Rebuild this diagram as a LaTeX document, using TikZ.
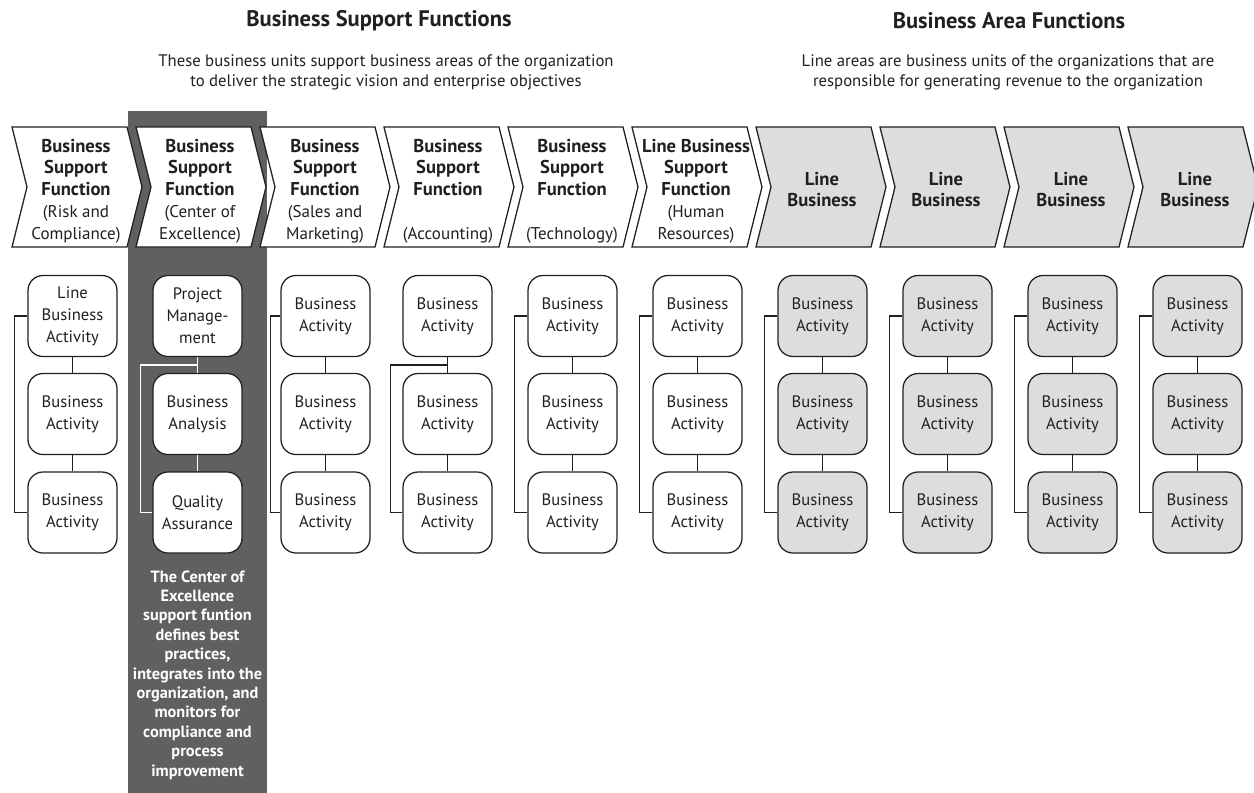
\documentclass[tikz,border=0pt]{standalone}
\usepackage{fontspec}
\setmainfont{PT Sans}
\usetikzlibrary{calc}
\definecolor{darkcol}{RGB}{96,96,98}
\definecolor{lightfill}{RGB}{221,221,222}
\definecolor{ink}{RGB}{35,31,32}
\begin{document}
\begin{tikzpicture}[x=1pt,y=-1pt,line width=1.25pt,
  actbox/.style={draw=ink,fill=white,rounded corners=15pt,minimum width=89pt,minimum height=81pt,align=center,font=\fontsize{16.6}{22}\selectfont,text=ink,inner sep=0pt},
  graybox/.style={actbox,fill=lightfill},
  chev/.style={draw=ink,fill=white,line join=miter},
  graychev/.style={chev,fill=lightfill},
  chevtxt/.style={align=center,font=\fontsize{17}{21.8}\selectfont,text=ink,inner sep=0pt},
  titletxt/.style={font=\fontsize{22.5}{26}\selectfont\bfseries,text=ink,inner sep=0pt},
  subtxt/.style={align=center,font=\fontsize{16.7}{20.5}\selectfont,text=ink,inner sep=0pt},
  darktxt/.style={align=center,font=\fontsize{16.3}{19.4}\selectfont\bfseries,text=white,inner sep=0pt},
  conn/.style={draw=ink,line width=1.25pt},
  wconn/.style={draw=white,line width=1.25pt}]
\newcommand{\cb}[1]{{\fontsize{18.6}{21.8}\selectfont\bfseries #1}}
\useasboundingbox (0,0) rectangle (1254,793);
\fill[white] (0,0) rectangle (1254,793);
% dark column
\fill[darkcol] (128,111) rectangle (267,793);
% titles
\node[titletxt] (t1) at (379,21) {Business Support Functions};
\node[subtxt] (s1) at (386,72.5) {These business units support business areas of the organization\\to deliver the strategic vision and enterprise objectives};
\node[titletxt] (t2) at (1009,21) {Business Area Functions};
\node[subtxt] (s2) at (1008,72.5) {Line areas are business units of the organizations that are\\responsible for generating revenue to the organization};
% chevrons
\foreach \i in {0,...,9}{
  \pgfmathsetmacro{\xl}{12+124*\i}
  \ifnum\i<6 \def\cs{chev}\else\def\cs{graychev}\fi
  \draw[\cs] (\xl,127) -- ({\xl+115},127) -- ({\xl+130},187) -- ({\xl+115},247) -- (\xl,247) -- ({\xl+15},187) -- cycle;
}
\node[chevtxt] (c1) at (76,191) {\cb{Business}\\\cb{Support}\\\cb{Function}\\(Risk and\\Compliance)};
\node[chevtxt] (c2) at (200,191) {\cb{Business}\\\cb{Support}\\\cb{Function}\\(Center of\\Excellence)};
\node[chevtxt] (c3) at (325,191) {\cb{Business}\\\cb{Support}\\\cb{Function}\\(Sales and\\Marketing)};
\node[chevtxt] (c4) at (448,191) {\cb{Business}\\\cb{Support}\\\cb{Function}\\\mbox{}\\(Accounting)};
\node[chevtxt] (c5) at (572,191) {\cb{Business}\\\cb{Support}\\\cb{Function}\\\mbox{}\\(Technology)};
\node[chevtxt] (c6) at (696,191) {\cb{Line Business}\\\cb{Support}\\\cb{Function}\\(Human\\Resources)};
\node[chevtxt] (c7) at (822,189.5) {\cb{Line}\\\cb{Business}};
\node[chevtxt] (c8) at (946,189.5) {\cb{Line}\\\cb{Business}};
\node[chevtxt] (c9) at (1071,189.5) {\cb{Line}\\\cb{Business}};
\node[chevtxt] (c10) at (1195,189.5) {\cb{Line}\\\cb{Business}};
% activity boxes
\node[actbox] (b1a) at (72.5,316) {Line\\Business\\Activity};
\node[actbox] (b1b) at (72.5,414) {Business\\Activity};
\node[actbox] (b1c) at (72.5,512.5) {Business\\Activity};
\node[actbox] (b2a) at (197.5,316) {Project\\Manage-\\ment};
\node[actbox] (b2b) at (197.5,414) {Business\\Analysis};
\node[actbox] (b2c) at (197.5,512.5) {Quality\\Assurance};
\foreach \n/\x in {3/325.5,4/447.5,5/572.5,6/697.5}{
  \node[actbox] (b\n a) at (\x,316) {Business\\Activity};
  \node[actbox] (b\n b) at (\x,414) {Business\\Activity};
  \node[actbox] (b\n c) at (\x,512.5) {Business\\Activity};
}
\foreach \n/\x in {7/822.5,8/947.5,9/1072.5,10/1197.5}{
  \node[graybox] (b\n a) at (\x,316) {Business\\Activity};
  \node[graybox] (b\n b) at (\x,414) {Business\\Activity};
  \node[graybox] (b\n c) at (\x,512.5) {Business\\Activity};
}
% connectors
\foreach \n in {1,3,4,5,6,7,8,9,10}{
  \draw[conn] (b\n a.south) -- (b\n b.north);
  \draw[conn] (b\n b.south) -- (b\n c.north);
}
\draw[wconn] (b2a.south) -- (b2b.north);
\draw[wconn] (b2b.south) -- (b2c.north);
\foreach \n in {1,5,6,7,8,9,10}{
  \draw[conn] (b\n a.west) -- ++(-13,0) |- (b\n c.west);
}
\draw[conn] (b3a.west) -- ++(-10,0) |- (b3c.west);
\coordinate (m2) at ($(b2a.south)!0.5!(b2b.north)$);
\draw[wconn] (m2) -| ([xshift=-12pt]b2c.west) -- (b2c.west);
\coordinate (m4) at ($(b4a.south)!0.5!(b4b.north)$);
\draw[conn] (m4) -| ([xshift=-12pt]b4c.west) -- (b4c.west);
% dark column text
\node[darktxt] (d1) at (197.5,675) {The Center of\\Excellence\\support funtion\\defines best\\practices,\\integrates into the\\organization, and\\monitors for\\compliance and\\process\\improvement};
\end{tikzpicture}
\end{document}
